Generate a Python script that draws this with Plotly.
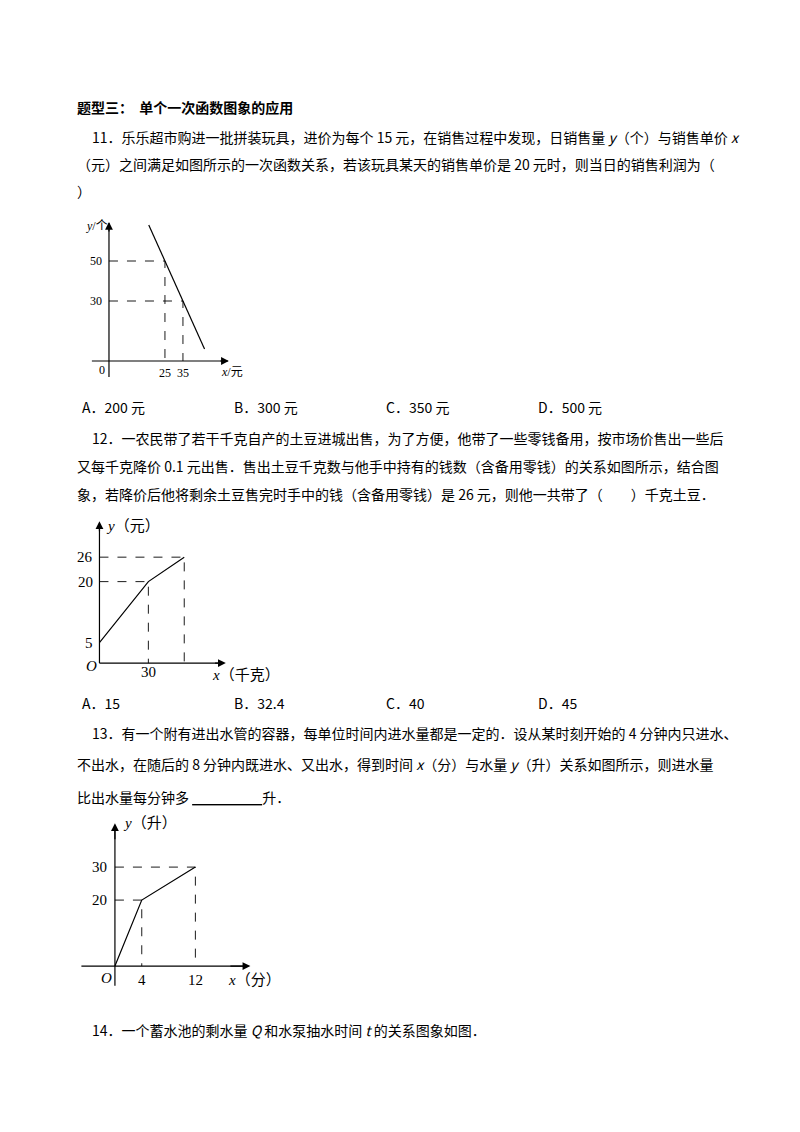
import plotly.graph_objects as go

W, H = 800, 1132
FONT = "Noto Sans CJK SC"
OFF = 8  # page body margin of the html page

# ---- data ----
g1_line_x = [16, 47]
g1_line_y = [68, 6]
g1_pts_x = [25, 35]
g1_pts_y = [50, 30]

g2_x = [0, 30, 52]
g2_y = [5, 20, 26]

g3_x = [0, 4, 12]
g3_y = [0, 20, 30]

opts11 = ["A．200 元", "B．300 元", "C．350 元", "D．500 元"]
opts12 = ["A．15", "B．32.4", "C．40", "D．45"]


def px(x):
    return (x - OFF) / W


def py(y):
    return 1 - (y - OFF) / H


fig = go.Figure()
annos = []


def text(x, y, s, size=14, anchor="left", bold=False):
    if bold:
        s = "<b>" + s + "</b>"
    annos.append(dict(x=px(x), y=py(y), xref="paper", yref="paper", text=s,
                      showarrow=False, xanchor=anchor, yanchor="middle",
                      font=dict(size=size, family=FONT, color="black")))


# page text
text(75, 107, "题型三：  单个一次函数图象的应用", bold=True)
text(90, 137, "11．乐乐超市购进一批拼装玩具，进价为每个 15 元，在销售过程中发现，日销售量 <i>y</i>（个）与销售单价 <i>x</i>")
text(75, 164, "（元）之间满足如图所示的一次函数关系，若该玩具某天的销售单价是 20 元时，则当日的销售利润为（")
text(75, 191, "）")
for i, o in enumerate(opts11):
    text(80 + 152 * i, 407, o)
text(90, 438, "12．一农民带了若干千克自产的土豆进城出售，为了方便，他带了一些零钱备用，按市场价售出一些后")
text(75, 466, "又每千克降价 0.1 元出售．售出土豆千克数与他手中持有的钱数（含备用零钱）的关系如图所示，结合图")
text(75, 494, "象，若降价后他将剩余土豆售完时手中的钱（含备用零钱）是 26 元，则他一共带了（　　）千克土豆．")
for i, o in enumerate(opts12):
    text(80 + 152 * i, 703, o)
text(90, 733, "13．有一个附有进出水管的容器，每单位时间内进水量都是一定的．设从某时刻开始的 4 分钟内只进水、")
text(75, 764, "不出水，在随后的 8 分钟内既进水、又出水，得到时间 <i>x</i>（分）与水量 <i>y</i>（升）关系如图所示，则进水量")
text(75, 797, "比出水量每分钟多 <u>　　　　　</u>升．")
text(90, 1030, "14．一个蓄水池的剩水量 <i>Q</i> 和水泵抽水时间 <i>t</i> 的关系图象如图．")


def setup_axes(n, dom_px, dom_py, xr, yr):
    sx = "" if n == 1 else str(n)
    common = dict(visible=False, showgrid=False, zeroline=False, fixedrange=True)
    fig.update_layout(**{
        "xaxis" + sx: dict(domain=[px(dom_px[0]), px(dom_px[1])], range=xr,
                           anchor="y" + sx, **common),
        "yaxis" + sx: dict(domain=[py(dom_py[1]), py(dom_py[0])], range=yr,
                           anchor="x" + sx, **common),
    })
    return "x" + sx, "y" + sx


def line(xa, ya, xs, ys, dash="solid", width=1.2):
    fig.add_trace(go.Scatter(x=xs, y=ys, mode="lines", xaxis=xa, yaxis=ya,
                             line=dict(color="black", width=width, dash=dash),
                             hoverinfo="skip", showlegend=False))


def arrow(xa, ya, x0, y0, x1, y1):
    annos.append(dict(x=x1, y=y1, ax=x0, ay=y0, xref=xa, yref=ya, axref=xa, ayref=ya,
                      text="", showarrow=True, arrowhead=2, arrowsize=1.3,
                      arrowwidth=1.2, arrowcolor="black"))


def dtext(xa, ya, x, y, s, size, anchor="center"):
    annos.append(dict(x=x, y=y, xref=xa, yref=ya, text=s, showarrow=False,
                      xanchor=anchor, yanchor="middle",
                      font=dict(size=size, family="Liberation Serif, " + FONT, color="black")))


# ---- graph 1 ----
xa, ya = setup_axes(1, (80, 240), (215, 385), [-22.2, 66.7], [-12, 73])
y0x = -6.1
line(xa, ya, [-15.6, 60], [0, 0])
line(xa, ya, [y0x, y0x], [-8, 69])
arrow(xa, ya, 55, 0, 60.5, 0)
arrow(xa, ya, y0x, 64, y0x, 69.5)
line(xa, ya, g1_line_x, g1_line_y)
for xv, yv in zip(g1_pts_x, g1_pts_y):
    line(xa, ya, [y0x, xv, xv], [yv, yv, 0], dash="dash", width=0.9)
    dtext(xa, ya, y0x - 3, yv, str(yv), 12, "right")
    dtext(xa, ya, xv, -6, str(xv), 12)
dtext(xa, ya, -10, -4.5, "0", 12)
dtext(xa, ya, -13, 67.5, "<i>y</i>/个", 12)
dtext(xa, ya, 62, -5.5, "<i>x</i>/元", 12)

# ---- graph 2 ----
xa, ya = setup_axes(2, (60, 300), (505, 690), [-24.2, 123], [-6.6, 38.8])
line(xa, ya, [0, 75], [0, 0])
line(xa, ya, [0, 0], [0, 34])
arrow(xa, ya, 70, 0, 77.5, 0)
arrow(xa, ya, 0, 32, 0, 34.8)
line(xa, ya, g2_x, g2_y)
line(xa, ya, [0, g2_x[1], g2_x[1]], [g2_y[1], g2_y[1], 0], dash="dash", width=0.9)
line(xa, ya, [0, g2_x[2], g2_x[2]], [g2_y[2], g2_y[2], 0], dash="dash", width=0.9)
for v in g2_y:
    dtext(xa, ya, -2.5, v, str(v), 15, "right")
dtext(xa, ya, g2_x[1], -2.2, "30", 15)
dtext(xa, ya, -5, -0.8, "<i>O</i>", 15)
dtext(xa, ya, 3, 33.7, "<i>y</i>（元）", 15, "left")
dtext(xa, ya, 68, -2.9, "<i>x</i>（千克）", 15, "left")

# ---- graph 3 ----
xa, ya = setup_axes(3, (70, 300), (815, 1000), [-6.7, 27.6], [-10.3, 45.8])
line(xa, ya, [-5, 19.5], [0, 0])
line(xa, ya, [0, 0], [-6, 41])
arrow(xa, ya, 17, 0, 20.2, 0)
arrow(xa, ya, 0, 38, 0, 43.3)
line(xa, ya, g3_x, g3_y)
for xv, yv in zip(g3_x[1:], g3_y[1:]):
    line(xa, ya, [0, xv, xv], [yv, yv, 0], dash="dash", width=0.9)
    dtext(xa, ya, -0.9, yv, str(yv), 15, "right")
    dtext(xa, ya, xv, -4.2, str(xv), 15)
dtext(xa, ya, -1.2, -3.6, "<i>O</i>", 15)
dtext(xa, ya, 0.9, 43.5, "<i>y</i>（升）", 15, "left")
dtext(xa, ya, 16.5, -4.2, "<i>x</i>（分）", 15, "left")

fig.update_layout(width=W, height=H, margin=dict(l=0, r=0, t=0, b=0),
                  paper_bgcolor="white", plot_bgcolor="white",
                  showlegend=False, annotations=annos)
fig.write_html("out.html")
